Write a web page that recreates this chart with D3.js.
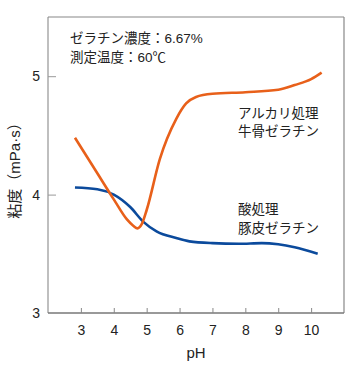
<!DOCTYPE html>
<html><head><meta charset="utf-8">
<script src="https://cdn.jsdelivr.net/npm/d3@7/dist/d3.min.js"></script>
<style>
body{margin:0;background:#fff;}
text{font-family:"Liberation Sans","Noto Sans CJK JP",sans-serif;fill:#222;}
</style></head><body>
<svg id="c" width="350" height="365"></svg>
<script>
const xTicks = [3,4,5,6,7,8,9,10];
const yTicks = [3,4,5];
const alkaliPH  = [2.82,3.5,4.0,4.4,4.6,4.72,4.85,5.0,5.4,5.9,6.2,6.5,7.0,8.0,9.0,9.5,10.0,10.32];
const alkaliVis = [4.48,4.18,3.96,3.79,3.735,3.715,3.75,3.87,4.30,4.64,4.77,4.825,4.852,4.865,4.885,4.925,4.975,5.03];
const acidPH  = [2.82,3.5,4.0,4.5,4.9,5.3,5.9,6.3,7.0,7.8,8.5,9.0,9.5,10.2];
const acidVis = [4.06,4.045,4.00,3.895,3.77,3.69,3.633,3.605,3.59,3.585,3.59,3.58,3.555,3.50];
const infoLines = ["ゼラチン濃度：6.67%","測定温度：60℃"];
const alkaliLabel = ["アルカリ処理","牛骨ゼラチン"];
const acidLabel = ["酸処理","豚皮ゼラチン"];

const svg = d3.select("#c");
const L=48, R=344, T=17, B=313;
const x = d3.scaleLinear().domain([2,11]).range([L,R]);
const y = d3.scaleLinear().domain([3,5.5]).range([B,T]);

// frame
svg.append("line").attr("x1",L).attr("x2",L).attr("y1",T).attr("y2",B).attr("stroke","#aaa").attr("stroke-width",1.5);
svg.append("line").attr("x1",L).attr("x2",R).attr("y1",T).attr("y2",T).attr("stroke","#888").attr("stroke-width",1.2);
svg.append("line").attr("x1",R).attr("x2",R).attr("y1",T).attr("y2",B).attr("stroke","#888").attr("stroke-width",1.2);
svg.append("line").attr("x1",L).attr("x2",R).attr("y1",B).attr("y2",B).attr("stroke","#777").attr("stroke-width",1.5);

// x axis
const xa = svg.append("g").attr("transform",`translate(0,${B})`)
  .call(d3.axisBottom(x).tickValues(xTicks).tickSizeInner(-5).tickSizeOuter(0).tickPadding(12));
xa.select(".domain").remove();
xa.selectAll(".tick line").attr("stroke","#888");
xa.selectAll("text").attr("font-size","14px").attr("fill","#222");

// y axis
const ya = svg.append("g").attr("transform",`translate(${L},0)`)
  .call(d3.axisLeft(y).tickValues(yTicks).tickFormat(d3.format("d")).tickSizeInner(-8).tickSizeOuter(0).tickPadding(8));
ya.select(".domain").remove();
ya.selectAll(".tick line").attr("stroke","#999");
ya.selectAll("text").attr("font-size","14px").attr("fill","#222");

const line = d3.line().x(d=>x(d[0])).y(d=>y(d[1])).curve(d3.curveMonotoneX);
svg.append("path").datum(acidPH.map((p,i)=>[p,acidVis[i]]))
  .attr("d",line).attr("fill","none").attr("stroke","#0b4a9c").attr("stroke-width",2.6);
svg.append("path").datum(alkaliPH.map((p,i)=>[p,alkaliVis[i]]))
  .attr("d",line).attr("fill","none").attr("stroke","#e8601a").attr("stroke-width",2.6);

// texts
infoLines.forEach((t,i)=>svg.append("text").attr("x",70).attr("y",43+i*19).attr("font-size","13.5px").text(t));
alkaliLabel.forEach((t,i)=>svg.append("text").attr("x",238).attr("y",118+i*18).attr("font-size","13.5px").text(t));
acidLabel.forEach((t,i)=>svg.append("text").attr("x",238).attr("y",214+i*19).attr("font-size","13.5px").text(t));

svg.append("text").attr("x",196).attr("y",358).attr("text-anchor","middle").attr("font-size","15px").text("pH");
svg.append("text").attr("transform","translate(20,167) rotate(-90)").attr("text-anchor","middle").attr("font-size","15px").text("粘度（mPa·s）");
</script></body></html>
